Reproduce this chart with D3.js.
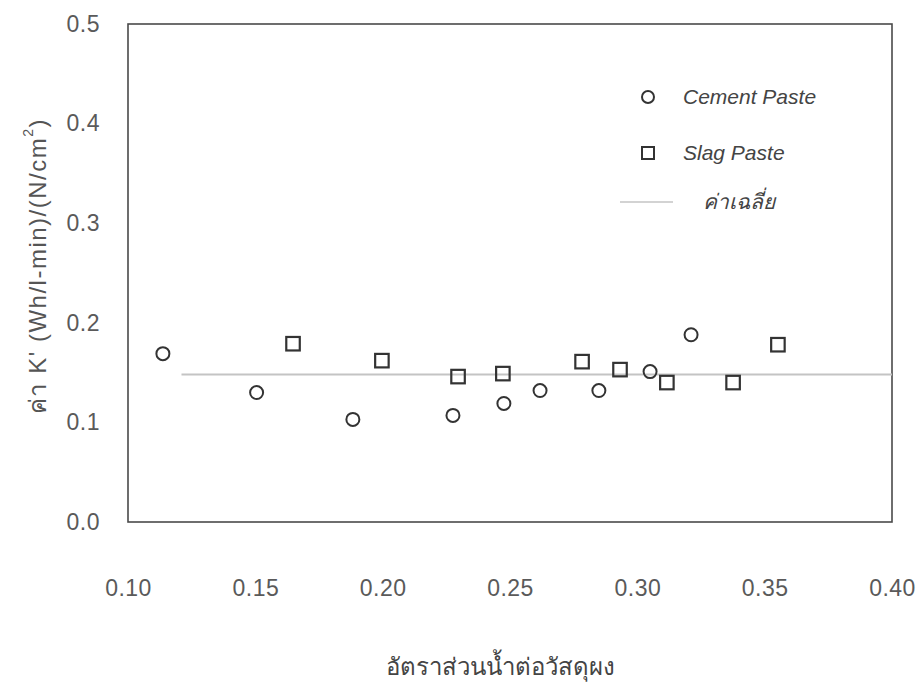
<!DOCTYPE html>
<html>
<head>
<meta charset="utf-8">
<script src="https://cdn.jsdelivr.net/npm/d3@7"></script>
<style>
  html, body { margin: 0; padding: 0; background: #fff; }
  svg { display: block; }
  text { font-family: "Liberation Sans", Arial, sans-serif; }
</style>
</head>
<body>
<svg id="chart" width="922" height="683"></svg>
<script>
// Water / powder ratio vs K' coefficient
const cementX = [0.1137, 0.1505, 0.1883, 0.2276, 0.2476, 0.2618, 0.2849, 0.3050, 0.3211];
const cementY = [0.169, 0.130, 0.103, 0.107, 0.119, 0.132, 0.132, 0.151, 0.188];
const slagX = [0.1648, 0.1997, 0.2296, 0.2472, 0.2783, 0.2932, 0.3116, 0.3376, 0.3552];
const slagY = [0.179, 0.162, 0.146, 0.149, 0.161, 0.153, 0.140, 0.140, 0.178];
const meanValue = 0.148;
const meanRange = [0.121, 0.40];
const xTicks = [0.10, 0.15, 0.20, 0.25, 0.30, 0.35, 0.40];
const yTicks = [0.0, 0.1, 0.2, 0.3, 0.4, 0.5];
const legendLabels = ["Cement Paste", "Slag Paste", "ค่าเฉลี่ย"];
const xTitle = "อัตราส่วนน้ำต่อวัสดุผง";

const svg = d3.select("#chart");
const plotLeft = 128, plotRight = 892, plotTop = 24, plotBottom = 522;

const x = d3.scaleLinear().domain([0.10, 0.40]).range([plotLeft, plotRight]);
const y = d3.scaleLinear().domain([0, 0.5]).range([plotBottom, plotTop]);

// plot frame
svg.append("rect")
  .attr("x", plotLeft).attr("y", plotTop)
  .attr("width", plotRight - plotLeft).attr("height", plotBottom - plotTop)
  .attr("fill", "none").attr("stroke", "#4a4a4a").attr("stroke-width", 1.6);

// y axis labels
const yAxis = d3.axisLeft(y).tickValues(yTicks).tickFormat(d3.format(".1f")).tickSize(0).tickPadding(28);
const gy = svg.append("g").attr("transform", `translate(${plotLeft},0)`).call(yAxis);
gy.select(".domain").remove();
gy.selectAll("text")
  .attr("font-size", 23).attr("fill", "#5a5a5a").attr("letter-spacing", 0.5)
  .attr("font-family", "Liberation Sans, Arial, sans-serif");

// x axis labels
const xAxis = d3.axisBottom(x).tickValues(xTicks).tickFormat(d3.format(".2f")).tickSize(0).tickPadding(58);
const gx = svg.append("g").attr("transform", `translate(0,${plotBottom})`).call(xAxis);
gx.select(".domain").remove();
gx.selectAll("text")
  .attr("font-size", 23).attr("fill", "#5a5a5a").attr("letter-spacing", 0.5)
  .attr("font-family", "Liberation Sans, Arial, sans-serif");

// mean line
svg.append("line")
  .attr("x1", x(meanRange[0])).attr("x2", x(meanRange[1]))
  .attr("y1", y(meanValue)).attr("y2", y(meanValue))
  .attr("stroke", "#c4c4c4").attr("stroke-width", 2);

// markers
const cement = cementX.map((v, i) => ({x: v, y: cementY[i]}));
const slag = slagX.map((v, i) => ({x: v, y: slagY[i]}));

svg.append("g").selectAll("circle").data(cement).join("circle")
  .attr("cx", d => x(d.x)).attr("cy", d => y(d.y)).attr("r", 6.5)
  .attr("fill", "none").attr("stroke", "#333").attr("stroke-width", 2);

const s = 13.5;
svg.append("g").selectAll("rect").data(slag).join("rect")
  .attr("x", d => x(d.x) - s / 2).attr("y", d => y(d.y) - s / 2)
  .attr("width", s).attr("height", s)
  .attr("fill", "none").attr("stroke", "#333").attr("stroke-width", 2.2);

// legend
const lg = svg.append("g");
lg.append("circle").attr("cx", 648).attr("cy", 97).attr("r", 6)
  .attr("fill", "none").attr("stroke", "#333").attr("stroke-width", 2);
lg.append("rect").attr("x", 642).attr("y", 147).attr("width", 12).attr("height", 12)
  .attr("fill", "none").attr("stroke", "#333").attr("stroke-width", 2);
lg.append("line").attr("x1", 620).attr("x2", 673).attr("y1", 202).attr("y2", 202)
  .attr("stroke", "#c4c4c4").attr("stroke-width", 1.5);
[97, 153, 202].forEach((cy, i) => {
  lg.append("text").attr("x", i === 2 ? 703 : 683).attr("y", cy + 7)
    .attr("font-size", 21).attr("font-style", "italic").attr("fill", "#444")
    .text(legendLabels[i]);
});

// axis titles
const yt = svg.append("text")
  .attr("transform", "translate(46,266) rotate(-90)")
  .attr("text-anchor", "middle")
  .attr("font-size", 24).attr("letter-spacing", 1.5).attr("fill", "#555");
yt.append("tspan").text("ค่า K' (Wh/l-min)/(N/cm");
yt.append("tspan").attr("font-size", 14).attr("dy", -13).text("2");
yt.append("tspan").attr("dy", 13).text(")");

svg.append("text")
  .attr("x", 500).attr("y", 675)
  .attr("text-anchor", "middle")
  .attr("font-size", 24).attr("fill", "#444")
  .text(xTitle);
</script>
</body>
</html>
